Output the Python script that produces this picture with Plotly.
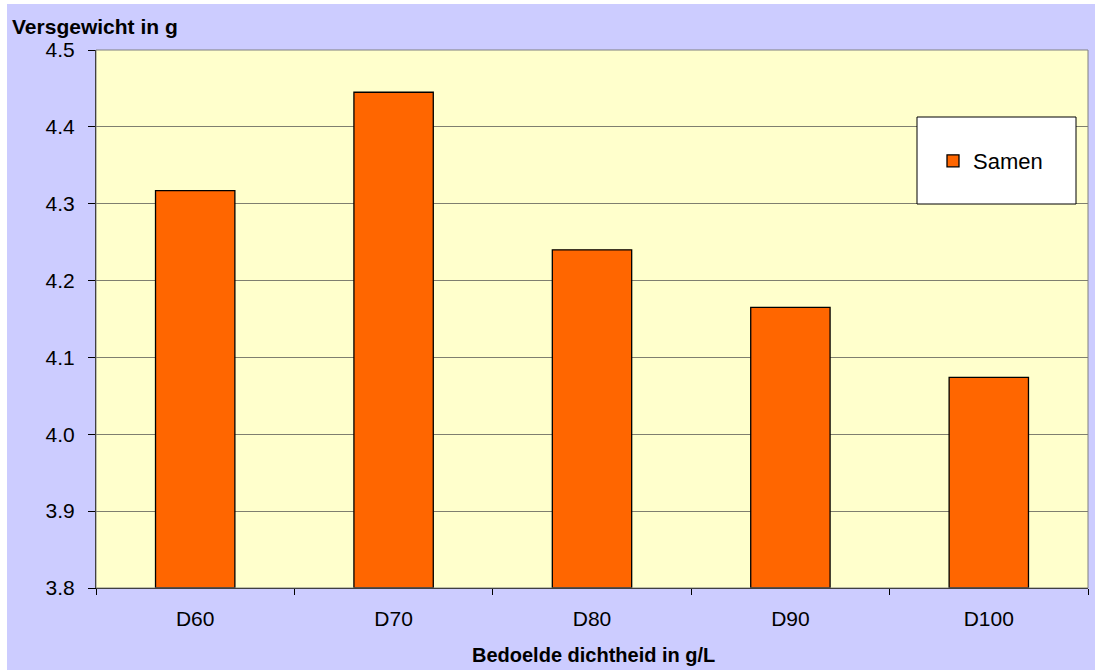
import plotly.graph_objects as go

# Data
categories = ["D60", "D70", "D80", "D90", "D100"]
samen = [4.317, 4.445, 4.240, 4.165, 4.074]
y_min, y_max = 3.8, 4.5
y_ticks = [3.8, 3.9, 4.0, 4.1, 4.2, 4.3, 4.4, 4.5]

W, H = 1095, 670
L, R, T, B = 96, 7, 50, 82
pw, ph = W - L - R, H - T - B

def px_x(p):
    return (p - L) / pw

def px_y(p):
    return 1 - (p - T) / ph

FONT = "Liberation Sans, Arial, sans-serif"

fig = go.Figure()
# bars are drawn up from the axis minimum
fig.add_trace(go.Bar(
    x=categories,
    y=[v - y_min for v in samen],
    base=y_min,
    name="Samen",
    marker=dict(color="#FF6600", line=dict(color="#000000", width=1.3)),
))

fig.update_layout(
    width=W, height=H,
    margin=dict(l=L, r=R, t=T, b=B),
    paper_bgcolor="#CCCCFF",
    plot_bgcolor="#FFFFCC",
    bargap=0.6,
    font=dict(family=FONT, size=21, color="#000000"),
    showlegend=True,
    legend=dict(
        x=px_x(933), y=px_y(161), xanchor="left", yanchor="middle",
        bgcolor="rgba(0,0,0,0)", borderwidth=0,
        font=dict(size=22),
    ),
)

fig.update_xaxes(
    type="category",
    tickson="boundaries",
    ticks="outside", ticklen=6, tickcolor="#000000",
    showline=True, linecolor="#000000", linewidth=1,
    showgrid=False,
    ticklabelstandoff=12,
    tickfont=dict(size=21),
)
fig.update_yaxes(
    range=[y_min, y_max],
    tickvals=y_ticks,
    ticktext=[f"{v:.1f}" for v in y_ticks],
    ticks="outside", ticklen=7, tickcolor="#000000",
    showline=True, linecolor="#000000", linewidth=1,
    showgrid=True, gridcolor="#7F7F6F", gridwidth=1,
    zeroline=False,
    ticklabelstandoff=9,
    tickfont=dict(size=21),
)

shapes = [
    # white margin strips along the left and top edges
    dict(type="rect", xref="paper", yref="paper", layer="above",
         x0=px_x(-5), x1=px_x(7), y0=px_y(H + 5), y1=px_y(-5),
         fillcolor="#FFFFFF", line=dict(width=0)),
    dict(type="rect", xref="paper", yref="paper", layer="above",
         x0=px_x(-5), x1=px_x(W + 5), y0=px_y(4), y1=px_y(-5),
         fillcolor="#FFFFFF", line=dict(width=0)),
    # plot-area frame
    dict(type="rect", xref="paper", yref="paper", layer="above",
         x0=0, x1=1, y0=0, y1=1,
         fillcolor="rgba(0,0,0,0)", line=dict(color="#808080", width=1)),
    # legend box
    dict(type="rect", xref="paper", yref="paper", layer="above",
         x0=px_x(917), x1=px_x(1076), y0=px_y(204), y1=px_y(117),
         fillcolor="#FFFFFF", line=dict(color="#000000", width=1)),
]
fig.update_layout(shapes=shapes)

fig.add_annotation(
    text="<b>Versgewicht in g</b>", xref="paper", yref="paper",
    x=px_x(10), y=px_y(26), xanchor="left", yanchor="middle",
    showarrow=False, font=dict(size=21, family=FONT),
)
fig.add_annotation(
    text="<b>Bedoelde dichtheid in g/L</b>", xref="paper", yref="paper",
    x=px_x(593), y=px_y(655), xanchor="center", yanchor="middle",
    showarrow=False, font=dict(size=20, family=FONT),
)

fig.write_html("out.html")
